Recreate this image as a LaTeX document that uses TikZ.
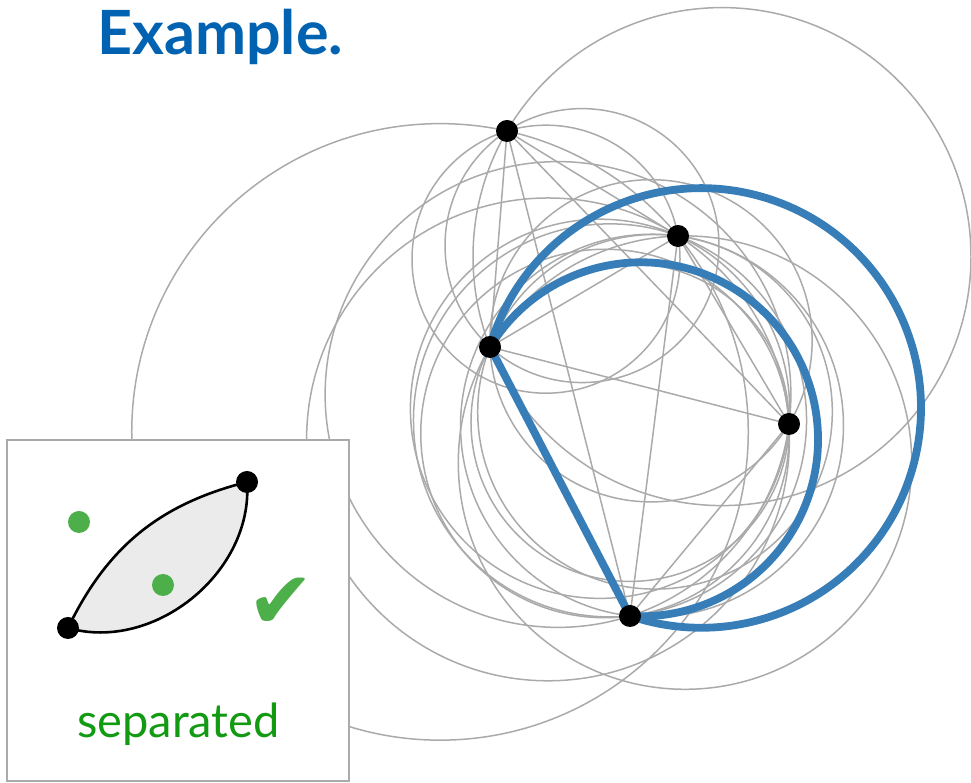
\documentclass[tikz,border=0pt]{standalone}
\usepackage{fontspec}
\setmainfont{Lato}
\newfontfamily\checkfont{DejaVu Sans}
\usetikzlibrary{calc}
\definecolor{cblue}{HTML}{377EB8}
\definecolor{tblue}{HTML}{0062B1}
\definecolor{cgreen}{HTML}{4DAF4A}
\definecolor{tgreen}{HTML}{139A13}
\definecolor{cgray}{HTML}{AAAAAA}
\definecolor{lensgray}{HTML}{EBEBEB}
\begin{document}
\begin{tikzpicture}[x=1pt,y=1pt,
  gcirc/.style={draw=cgray, line width=1.5pt},
  gline/.style={draw=cgray, line width=1.5pt},
  bluepath/.style={draw=cblue, line width=7.8pt},
  vtx/.style={circle, fill=black, inner sep=0pt, minimum size=22pt},
  gdot/.style={circle, fill=cgreen, inner sep=0pt, minimum size=22pt},
  insetbox/.style={draw=cgray, line width=2.6pt, fill=white}]
\useasboundingbox (0,0) rectangle (971,783);
% points (y up)
\coordinate (A) at (507,652);
\coordinate (B) at (678,547);
\coordinate (C) at (490,436);
\coordinate (D) at (789,359);
\coordinate (E) at (630,167);
% gray circles: centre / point on circle
\foreach \cx/\cy/\q in {440/351.1/A, 546/523.8/A, 722/526.4/A, 582/537.4/A,
  685/320.4/B, 655/371.2/B, 548/343.6/B, 652/357.3/B,
  651/442.2/C, 630/360.6/C, 558/388.5/D,
  600/374.2/B, 610/362.6/B, 605/349.5/D}{
  \draw[gcirc] let \p1=($(\q)-(\cx,\cy)$) in (\cx,\cy) circle[radius={veclen(\x1,\y1)}];
}
% gray segments
\foreach \u/\v in {A/B, A/C, A/D, A/E, B/C, B/D, B/E, C/D, D/E}{
  \draw[gline] (\u) -- (\v);
}
% blue
\draw[bluepath] (C) -- (E);
\draw[bluepath] (C) arc[start angle=148.56, end angle=-93.56, radius=177];
\draw[bluepath] (C) arc[start angle=163.89, end angle=-108.9, radius=219.8];
% vertices
\foreach \v in {A,B,C,D,E}{ \node[vtx] (n\v) at (\v) {}; }
% title
\node[anchor=base west, inner sep=0pt, text=tblue, font=\fontsize{61}{63}\selectfont\bfseries] (title) at (97,728) {Example.};
% inset
\draw[insetbox] (7,2) rectangle (349,343);
\coordinate (P1) at (68,155);
\coordinate (P2) at (247,301);
\draw[black, line width=2.6pt, fill=lensgray] (P1) to[bend left=25] (P2) to[bend left=55] (P1);
\node[vtx] (p1) at (P1) {};
\node[vtx] (p2) at (P2) {};
\node[gdot] (g1) at (79,261) {};
\node[gdot] (g2) at (163,198) {};
\node[text=cgreen, font=\checkfont\fontsize{80}{82}\selectfont, inner sep=0pt] (chk) at (281,180) {✔};
\node[anchor=base west, inner sep=0pt, text=tgreen, font=\fontsize{47}{50}\selectfont] (sep) at (77,45) {separated};
\end{tikzpicture}
\end{document}
